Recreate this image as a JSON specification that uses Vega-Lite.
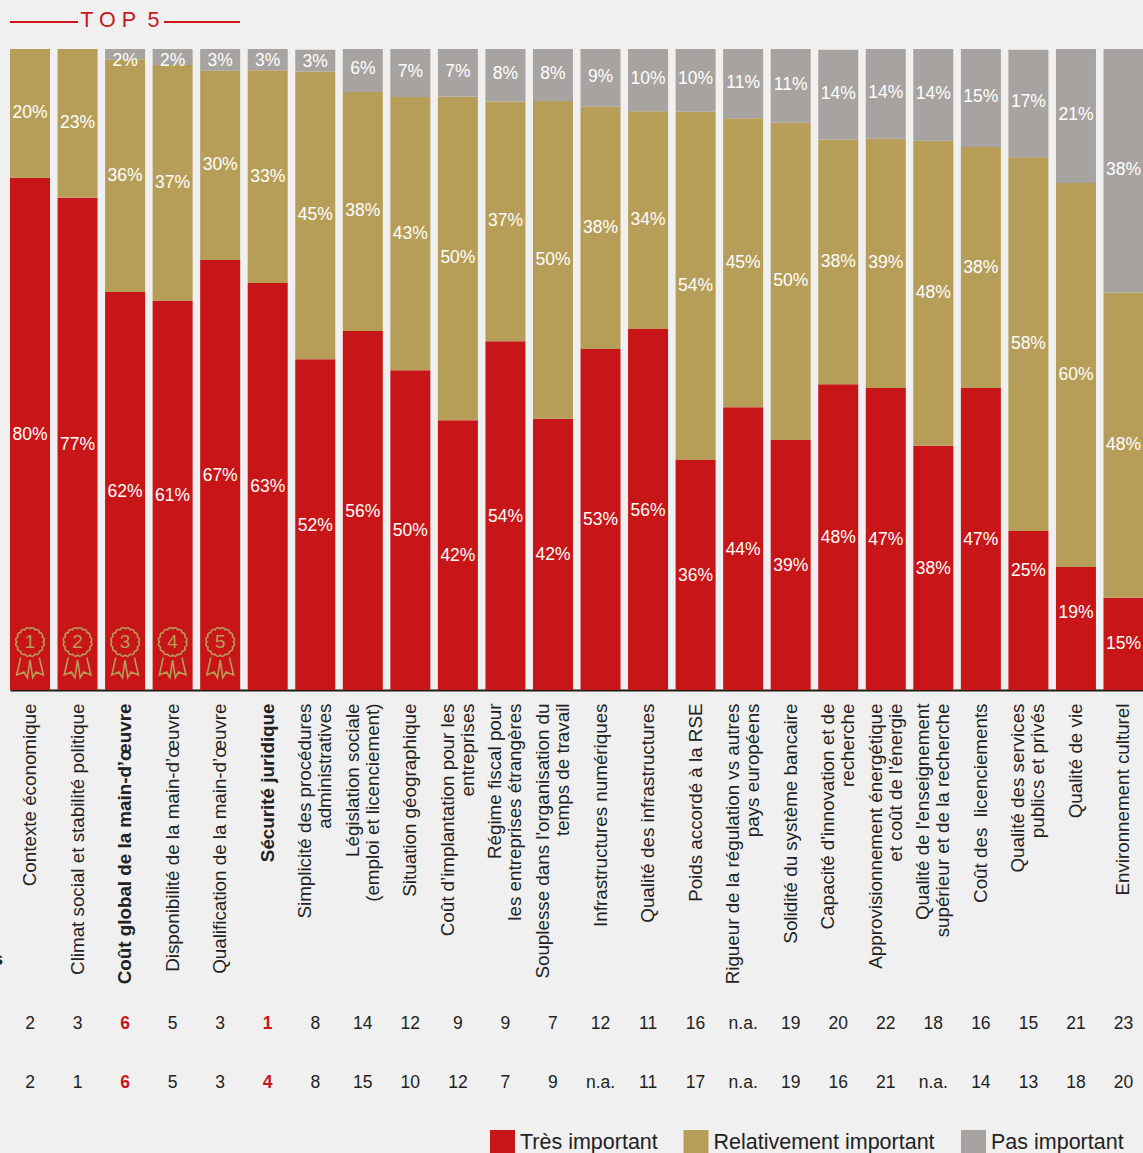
{
"$schema":"https://vega.github.io/schema/vega-lite/v6.json",
"background":"#f0f0f0","padding":0,"autosize":{"type":"pad"},
"spacing":5,"bounds":"flush",
"config":{"view":{"stroke":null},"font":"Liberation Sans"},
"datasets":{
"shares":[
{"c":"Contexte économique","level":"Très important","ord":1,"value":79.9,"label":"80%"},{"c":"Contexte économique","level":"Relativement important","ord":2,"value":20.1,"label":"20%"},
{"c":"Climat social et stabilité politique","level":"Très important","ord":1,"value":76.8,"label":"77%"},{"c":"Climat social et stabilité politique","level":"Relativement important","ord":2,"value":23.2,"label":"23%"},
{"c":"Coût global de la main-d’œuvre","level":"Très important","ord":1,"value":62.1,"label":"62%"},{"c":"Coût global de la main-d’œuvre","level":"Relativement important","ord":2,"value":36.3,"label":"36%"},{"c":"Coût global de la main-d’œuvre","level":"Pas important","ord":3,"value":1.6,"label":"2%"},
{"c":"Disponibilité de la main-d’œuvre","level":"Très important","ord":1,"value":60.7,"label":"61%"},{"c":"Disponibilité de la main-d’œuvre","level":"Relativement important","ord":2,"value":36.8,"label":"37%"},{"c":"Disponibilité de la main-d’œuvre","level":"Pas important","ord":3,"value":2.5,"label":"2%"},
{"c":"Qualification de la main-d’œuvre","level":"Très important","ord":1,"value":67.1,"label":"67%"},{"c":"Qualification de la main-d’œuvre","level":"Relativement important","ord":2,"value":29.5,"label":"30%"},{"c":"Qualification de la main-d’œuvre","level":"Pas important","ord":3,"value":3.4,"label":"3%"},
{"c":"Sécurité juridique","level":"Très important","ord":1,"value":63.5,"label":"63%"},{"c":"Sécurité juridique","level":"Relativement important","ord":2,"value":33.2,"label":"33%"},{"c":"Sécurité juridique","level":"Pas important","ord":3,"value":3.3,"label":"3%"},
{"c":"Simplicité des procédures|administratives","level":"Très important","ord":1,"value":51.6,"label":"52%"},{"c":"Simplicité des procédures|administratives","level":"Relativement important","ord":2,"value":44.9,"label":"45%"},{"c":"Simplicité des procédures|administratives","level":"Pas important","ord":3,"value":3.4,"label":"3%"},
{"c":"Législation sociale|(emploi et licenciement)","level":"Très important","ord":1,"value":56.0,"label":"56%"},{"c":"Législation sociale|(emploi et licenciement)","level":"Relativement important","ord":2,"value":37.3,"label":"38%"},{"c":"Législation sociale|(emploi et licenciement)","level":"Pas important","ord":3,"value":6.7,"label":"6%"},
{"c":"Situation géographique","level":"Très important","ord":1,"value":49.9,"label":"50%"},{"c":"Situation géographique","level":"Relativement important","ord":2,"value":42.6,"label":"43%"},{"c":"Situation géographique","level":"Pas important","ord":3,"value":7.5,"label":"7%"},
{"c":"Coût d’implantation pour les|entreprises","level":"Très important","ord":1,"value":42.1,"label":"42%"},{"c":"Coût d’implantation pour les|entreprises","level":"Relativement important","ord":2,"value":50.5,"label":"50%"},{"c":"Coût d’implantation pour les|entreprises","level":"Pas important","ord":3,"value":7.4,"label":"7%"},
{"c":"Régime fiscal pour|les entreprises étrangères","level":"Très important","ord":1,"value":54.4,"label":"54%"},{"c":"Régime fiscal pour|les entreprises étrangères","level":"Relativement important","ord":2,"value":37.4,"label":"37%"},{"c":"Régime fiscal pour|les entreprises étrangères","level":"Pas important","ord":3,"value":8.2,"label":"8%"},
{"c":"Souplesse dans l'organisation du|temps de travail","level":"Très important","ord":1,"value":42.3,"label":"42%"},{"c":"Souplesse dans l'organisation du|temps de travail","level":"Relativement important","ord":2,"value":49.6,"label":"50%"},{"c":"Souplesse dans l'organisation du|temps de travail","level":"Pas important","ord":3,"value":8.1,"label":"8%"},
{"c":"Infrastructures numériques","level":"Très important","ord":1,"value":53.2,"label":"53%"},{"c":"Infrastructures numériques","level":"Relativement important","ord":2,"value":37.8,"label":"38%"},{"c":"Infrastructures numériques","level":"Pas important","ord":3,"value":9.0,"label":"9%"},
{"c":"Qualité des infrastructures","level":"Très important","ord":1,"value":56.3,"label":"56%"},{"c":"Qualité des infrastructures","level":"Relativement important","ord":2,"value":34.0,"label":"34%"},{"c":"Qualité des infrastructures","level":"Pas important","ord":3,"value":9.7,"label":"10%"},
{"c":"Poids accordé à la RSE","level":"Très important","ord":1,"value":35.9,"label":"36%"},{"c":"Poids accordé à la RSE","level":"Relativement important","ord":2,"value":54.3,"label":"54%"},{"c":"Poids accordé à la RSE","level":"Pas important","ord":3,"value":9.8,"label":"10%"},
{"c":"Rigueur de la régulation vs autres|pays européens","level":"Très important","ord":1,"value":44.1,"label":"44%"},{"c":"Rigueur de la régulation vs autres|pays européens","level":"Relativement important","ord":2,"value":45.1,"label":"45%"},{"c":"Rigueur de la régulation vs autres|pays européens","level":"Pas important","ord":3,"value":10.8,"label":"11%"},
{"c":"Solidité du système bancaire","level":"Très important","ord":1,"value":39.0,"label":"39%"},{"c":"Solidité du système bancaire","level":"Relativement important","ord":2,"value":49.5,"label":"50%"},{"c":"Solidité du système bancaire","level":"Pas important","ord":3,"value":11.5,"label":"11%"},
{"c":"Capacité d'innovation et de|recherche","level":"Très important","ord":1,"value":47.7,"label":"48%"},{"c":"Capacité d'innovation et de|recherche","level":"Relativement important","ord":2,"value":38.2,"label":"38%"},{"c":"Capacité d'innovation et de|recherche","level":"Pas important","ord":3,"value":14.0,"label":"14%"},
{"c":"Approvisionnement énergétique|et coût de l'énergie","level":"Très important","ord":1,"value":47.1,"label":"47%"},{"c":"Approvisionnement énergétique|et coût de l'énergie","level":"Relativement important","ord":2,"value":38.9,"label":"39%"},{"c":"Approvisionnement énergétique|et coût de l'énergie","level":"Pas important","ord":3,"value":14.0,"label":"14%"},
{"c":"Qualité de l'enseignement|supérieur et de la recherche","level":"Très important","ord":1,"value":38.1,"label":"38%"},{"c":"Qualité de l'enseignement|supérieur et de la recherche","level":"Relativement important","ord":2,"value":47.6,"label":"48%"},{"c":"Qualité de l'enseignement|supérieur et de la recherche","level":"Pas important","ord":3,"value":14.3,"label":"14%"},
{"c":"Coût des  licenciements","level":"Très important","ord":1,"value":47.1,"label":"47%"},{"c":"Coût des  licenciements","level":"Relativement important","ord":2,"value":37.6,"label":"38%"},{"c":"Coût des  licenciements","level":"Pas important","ord":3,"value":15.3,"label":"15%"},
{"c":"Qualité des services|publics et privés","level":"Très important","ord":1,"value":24.8,"label":"25%"},{"c":"Qualité des services|publics et privés","level":"Relativement important","ord":2,"value":58.3,"label":"58%"},{"c":"Qualité des services|publics et privés","level":"Pas important","ord":3,"value":16.8,"label":"17%"},
{"c":"Qualité de vie","level":"Très important","ord":1,"value":19.2,"label":"19%"},{"c":"Qualité de vie","level":"Relativement important","ord":2,"value":59.9,"label":"60%"},{"c":"Qualité de vie","level":"Pas important","ord":3,"value":20.9,"label":"21%"},
{"c":"Environnement culturel","level":"Très important","ord":1,"value":14.4,"label":"15%"},{"c":"Environnement culturel","level":"Relativement important","ord":2,"value":47.6,"label":"48%"},{"c":"Environnement culturel","level":"Pas important","ord":3,"value":38.0,"label":"38%"}
],
"medals":[{"c":"Contexte économique","n":"1"},{"c":"Climat social et stabilité politique","n":"2"},{"c":"Coût global de la main-d’œuvre","n":"3"},{"c":"Disponibilité de la main-d’œuvre","n":"4"},{"c":"Qualification de la main-d’œuvre","n":"5"}],
"ranks":[
{"c":"Contexte économique","row":"A","rank":"2","hi":false},{"c":"Climat social et stabilité politique","row":"A","rank":"3","hi":false},{"c":"Coût global de la main-d’œuvre","row":"A","rank":"6","hi":true},{"c":"Disponibilité de la main-d’œuvre","row":"A","rank":"5","hi":false},{"c":"Qualification de la main-d’œuvre","row":"A","rank":"3","hi":false},{"c":"Sécurité juridique","row":"A","rank":"1","hi":true},{"c":"Simplicité des procédures|administratives","row":"A","rank":"8","hi":false},{"c":"Législation sociale|(emploi et licenciement)","row":"A","rank":"14","hi":false},{"c":"Situation géographique","row":"A","rank":"12","hi":false},{"c":"Coût d’implantation pour les|entreprises","row":"A","rank":"9","hi":false},{"c":"Régime fiscal pour|les entreprises étrangères","row":"A","rank":"9","hi":false},{"c":"Souplesse dans l'organisation du|temps de travail","row":"A","rank":"7","hi":false},{"c":"Infrastructures numériques","row":"A","rank":"12","hi":false},{"c":"Qualité des infrastructures","row":"A","rank":"11","hi":false},{"c":"Poids accordé à la RSE","row":"A","rank":"16","hi":false},{"c":"Rigueur de la régulation vs autres|pays européens","row":"A","rank":"n.a.","hi":false},{"c":"Solidité du système bancaire","row":"A","rank":"19","hi":false},{"c":"Capacité d'innovation et de|recherche","row":"A","rank":"20","hi":false},{"c":"Approvisionnement énergétique|et coût de l'énergie","row":"A","rank":"22","hi":false},{"c":"Qualité de l'enseignement|supérieur et de la recherche","row":"A","rank":"18","hi":false},{"c":"Coût des  licenciements","row":"A","rank":"16","hi":false},{"c":"Qualité des services|publics et privés","row":"A","rank":"15","hi":false},{"c":"Qualité de vie","row":"A","rank":"21","hi":false},{"c":"Environnement culturel","row":"A","rank":"23","hi":false},
{"c":"Contexte économique","row":"B","rank":"2","hi":false},{"c":"Climat social et stabilité politique","row":"B","rank":"1","hi":false},{"c":"Coût global de la main-d’œuvre","row":"B","rank":"6","hi":true},{"c":"Disponibilité de la main-d’œuvre","row":"B","rank":"5","hi":false},{"c":"Qualification de la main-d’œuvre","row":"B","rank":"3","hi":false},{"c":"Sécurité juridique","row":"B","rank":"4","hi":true},{"c":"Simplicité des procédures|administratives","row":"B","rank":"8","hi":false},{"c":"Législation sociale|(emploi et licenciement)","row":"B","rank":"15","hi":false},{"c":"Situation géographique","row":"B","rank":"10","hi":false},{"c":"Coût d’implantation pour les|entreprises","row":"B","rank":"12","hi":false},{"c":"Régime fiscal pour|les entreprises étrangères","row":"B","rank":"7","hi":false},{"c":"Souplesse dans l'organisation du|temps de travail","row":"B","rank":"9","hi":false},{"c":"Infrastructures numériques","row":"B","rank":"n.a.","hi":false},{"c":"Qualité des infrastructures","row":"B","rank":"11","hi":false},{"c":"Poids accordé à la RSE","row":"B","rank":"17","hi":false},{"c":"Rigueur de la régulation vs autres|pays européens","row":"B","rank":"n.a.","hi":false},{"c":"Solidité du système bancaire","row":"B","rank":"19","hi":false},{"c":"Capacité d'innovation et de|recherche","row":"B","rank":"16","hi":false},{"c":"Approvisionnement énergétique|et coût de l'énergie","row":"B","rank":"21","hi":false},{"c":"Qualité de l'enseignement|supérieur et de la recherche","row":"B","rank":"n.a.","hi":false},{"c":"Coût des  licenciements","row":"B","rank":"14","hi":false},{"c":"Qualité des services|publics et privés","row":"B","rank":"13","hi":false},{"c":"Qualité de vie","row":"B","rank":"18","hi":false},{"c":"Environnement culturel","row":"B","rank":"20","hi":false}
],
"bracket":[{"from":0,"to":1.478},{"from":3.348,"to":5}]
},
"vconcat":[
{
"width":1143,"height":44,
"layer":[
{"data":{"name":"bracket"},"mark":{"type":"rule","color":"#c8161c","strokeWidth":2},
"encoding":{"x":{"field":"from","type":"quantitative","scale":{"domain":[0,5],"range":[10,240]},"axis":null},"x2":{"field":"to"}}},
{"data":{"values":[{"t":"T O P \u00a05"}]},"mark":{"type":"text","fontSize":21.5,"color":"#c8161c","align":"center","baseline":"middle","dy":-1},
"encoding":{"x":{"datum":2.39,"type":"quantitative"},"text":{"field":"t"}}}
]
},
{
"width":1143,"height":641,
"encoding":{"x":{"field":"c","type":"nominal","sort":null,"title":null,
"scale":{"type":"band","domain":["Contexte économique","Climat social et stabilité politique","Coût global de la main-d’œuvre","Disponibilité de la main-d’œuvre","Qualification de la main-d’œuvre","Sécurité juridique","Simplicité des procédures|administratives","Législation sociale|(emploi et licenciement)","Situation géographique","Coût d’implantation pour les|entreprises","Régime fiscal pour|les entreprises étrangères","Souplesse dans l'organisation du|temps de travail","Infrastructures numériques","Qualité des infrastructures","Poids accordé à la RSE","Rigueur de la régulation vs autres|pays européens","Solidité du système bancaire","Capacité d'innovation et de|recherche","Approvisionnement énergétique|et coût de l'énergie","Qualité de l'enseignement|supérieur et de la recherche","Coût des  licenciements","Qualité des services|publics et privés","Qualité de vie","Environnement culturel"],"range":[10,1143.5],"paddingInner":0.1586,"paddingOuter":0},
"axis":{"orient":"bottom","labelExpr":"split(replace(datum.label,'  ',' \u00a0'),'|')","labelAngle":-90,"labelAlign":"right","labelBaseline":"middle","labelFontSize":18.8,"labelLineHeight":20,"labelColor":"#222222","labelPadding":13,"labelLimit":0,"labelOverlap":false,"labelBound":false,"labelFlush":false,"ticks":false,"grid":false,"domain":true,"domainColor":"#1d1d12","domainWidth":2,"labelOffset":{"condition":{"test":"indexof(datum.value,'|')>=0","value":-10},"value":0},"labelFontWeight":{"condition":{"test":"datum.value=='Coût global de la main-d’œuvre'||datum.value=='Sécurité juridique'","value":"bold"},"value":"normal"}}}},
"layer":[
{"data":{"name":"shares"},"mark":{"type":"bar"},
"encoding":{"y":{"field":"value","type":"quantitative","stack":"zero","scale":{"domain":[0,100]},"axis":null},
"color":{"field":"level","type":"nominal","scale":{"domain":["Très important","Relativement important","Pas important"],"range":["#c81517","#b69e58","#a7a3a0"]},
"legend":{"orient":"none","direction":"horizontal","legendX":490,"legendY":1130,"title":null,"symbolType":"square","symbolSize":625,"symbolStrokeWidth":0,"labelFontSize":21.5,"labelColor":"#222222","labelOffset":5,"columnPadding":25.5,"symbolOpacity":1,"labelLimit":0}},
"order":{"field":"ord","type":"quantitative"}}},
{"data":{"name":"shares"},"mark":{"type":"text","color":"#ffffff","fontSize":17.5,"align":"center","baseline":"middle","dy":{"expr":"datum.value<2?7:datum.value<3?4:datum.value<4?1:datum.ord==3?-1:datum.ord==2?0:datum.label=='25%'?-40:datum.label=='19%'?-15:datum.label=='15%'?0:1"}},
"encoding":{"y":{"field":"value","type":"quantitative","stack":"zero","bandPosition":0.5},"detail":{"field":"level"},"order":{"field":"ord","type":"quantitative"},"text":{"field":"label"}}},
{"data":{"name":"medals"},"mark":{"type":"point","filled":false,"fill":"transparent","stroke":"#b69e58","strokeWidth":1.6,"opacity":1,"size":2704,
"shape":"M.51 -.385Q.604 -.265 .471 -.19Q.512 -.043 .361 -.024Q.342 .127 .195 .086Q.12 .219 0 .125Q-.12 .219 -.195 .086Q-.342 .127 -.361 -.024Q-.512 -.043 -.471 -.19Q-.604 -.265 -.51 -.385Q-.604 -.505 -.471 -.58Q-.512 -.727 -.361 -.746Q-.342 -.897 -.195 -.856Q-.12 -.989 0 -.895Q.12 -.989 .195 -.856Q.342 -.897 .361 -.746Q.512 -.727 .471 -.58Q.604 -.505 .51 -.385ZM-.359 .218L-.513 .885L-.231 .769L-.103 .988L0 .308L.103 .988L.231 .769L.513 .885L.359 .218"},
"encoding":{"y":{"datum":5.93,"type":"quantitative"}}},
{"data":{"name":"medals"},"mark":{"type":"text","color":"#b69e58","fontSize":19,"align":"center","baseline":"middle"},
"encoding":{"y":{"datum":7.45,"type":"quantitative"},"text":{"field":"n"}}}
]
},
{
"width":1143,"height":458,
"encoding":{"x":{"field":"c","type":"nominal","sort":null,"axis":null,
"scale":{"type":"band","domain":["Contexte économique","Climat social et stabilité politique","Coût global de la main-d’œuvre","Disponibilité de la main-d’œuvre","Qualification de la main-d’œuvre","Sécurité juridique","Simplicité des procédures|administratives","Législation sociale|(emploi et licenciement)","Situation géographique","Coût d’implantation pour les|entreprises","Régime fiscal pour|les entreprises étrangères","Souplesse dans l'organisation du|temps de travail","Infrastructures numériques","Qualité des infrastructures","Poids accordé à la RSE","Rigueur de la régulation vs autres|pays européens","Solidité du système bancaire","Capacité d'innovation et de|recherche","Approvisionnement énergétique|et coût de l'énergie","Qualité de l'enseignement|supérieur et de la recherche","Coût des  licenciements","Qualité des services|publics et privés","Qualité de vie","Environnement culturel"],"range":[10,1143.5],"paddingInner":0.1586,"paddingOuter":0}},
"y":{"field":"row","type":"ordinal","axis":null,"scale":{"type":"point","domain":["A","B"],"range":[329,388],"padding":0}},
"text":{"field":"rank"}},
"layer":[
{"data":{"name":"ranks"},"transform":[{"filter":"!datum.hi"}],"mark":{"type":"text","fontSize":17.5,"color":"#222222","align":"center","baseline":"middle"}},
{"data":{"name":"ranks"},"transform":[{"filter":"datum.hi"}],"mark":{"type":"text","fontSize":17.5,"fontWeight":"bold","color":"#c8161c","align":"center","baseline":"middle"}},
{"data":{"values":[{"c":"Contexte économique","row":"A","rank":"s"}]},"mark":{"type":"text","clip":true,"fontSize":19,"fontWeight":"bold","color":"#222222","align":"right","baseline":"middle","dx":-27,"dy":-65}}
]
}
]
}
